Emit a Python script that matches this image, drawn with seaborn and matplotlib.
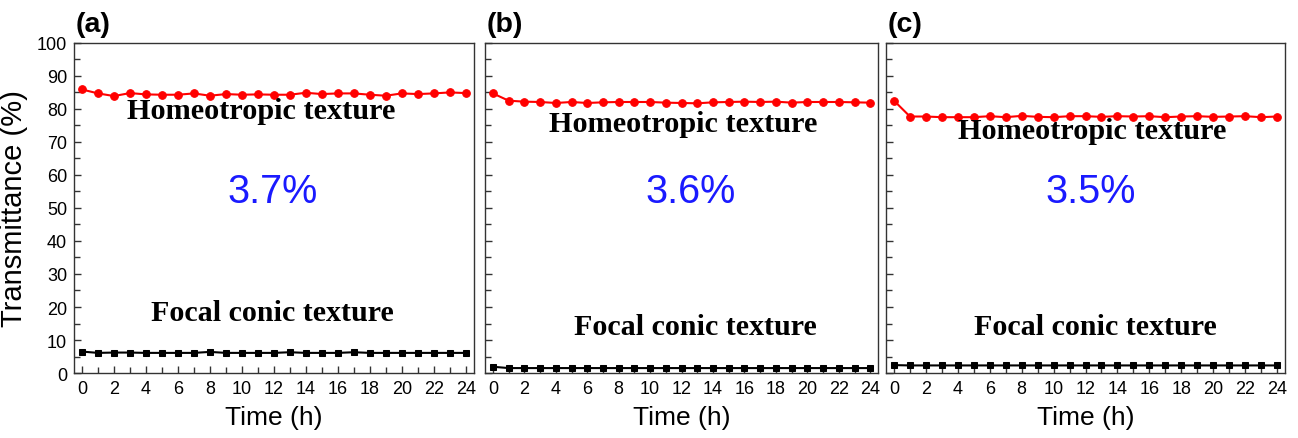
import numpy as np
import pandas as pd
import matplotlib
matplotlib.use("Agg")
import matplotlib.pyplot as plt
from matplotlib.ticker import MultipleLocator
import seaborn as sns

time_h = list(range(25))

homeo_a = [85.9, 84.7, 83.9, 84.8, 84.4, 84.3, 84.3, 84.7, 84.0, 84.5, 84.3, 84.4, 84.3, 84.3,
           84.9, 84.5, 84.7, 84.7, 84.3, 84.0, 84.7, 84.5, 84.7, 85.0, 84.8]
focal_a = [6.5, 6.1, 6.2, 6.2, 6.1, 6.1, 6.1, 6.1, 6.4, 6.1, 6.1, 6.1, 6.1, 6.3,
           6.1, 6.1, 6.1, 6.3, 6.1, 6.1, 6.1, 6.1, 6.1, 6.1, 6.1]

homeo_b = [84.7, 82.5, 82.2, 82.1, 81.8, 82.1, 81.8, 82.0, 82.1, 82.1, 82.1, 81.9, 81.8, 81.7,
           82.0, 82.1, 82.2, 82.1, 82.2, 81.9, 82.1, 82.1, 82.1, 82.0, 81.9]
focal_b = [1.9, 1.5, 1.5, 1.5, 1.5, 1.5, 1.5, 1.5, 1.5, 1.5, 1.5, 1.5, 1.5, 1.5,
           1.5, 1.5, 1.5, 1.5, 1.5, 1.5, 1.5, 1.5, 1.5, 1.5, 1.5]

homeo_c = [82.5, 77.7, 77.7, 77.5, 77.5, 77.5, 77.8, 77.5, 77.9, 77.6, 77.5, 77.8, 77.8, 77.6,
           77.8, 77.7, 77.8, 77.5, 77.7, 77.8, 77.6, 77.7, 77.8, 77.5, 77.7]
focal_c = [2.4, 2.3, 2.3, 2.3, 2.3, 2.3, 2.3, 2.3, 2.3, 2.3, 2.3, 2.3, 2.3, 2.3,
           2.3, 2.3, 2.3, 2.3, 2.3, 2.3, 2.3, 2.3, 2.3, 2.3, 2.3]

panel_labels = ["(a)", "(b)", "(c)"]
percent_labels = ["3.7%", "3.6%", "3.5%"]
homeo_series = [homeo_a, homeo_b, homeo_c]
focal_series = [focal_a, focal_b, focal_c]

sns.set_theme(style="ticks")
plt.rcParams['font.family'] = ['Liberation Sans', 'DejaVu Sans']
plt.rcParams['text.color'] = 'black'
plt.rcParams['axes.labelcolor'] = 'black'
plt.rcParams['xtick.color'] = 'black'
plt.rcParams['ytick.color'] = 'black'
plt.rcParams['xtick.labelcolor'] = 'black'
plt.rcParams['ytick.labelcolor'] = 'black'

fig = plt.figure(figsize=(12.98, 4.39), dpi=100)
positions = [
    [0.057, 0.148, 0.308, 0.752],
    [0.3737, 0.148, 0.3028, 0.752],
    [0.6826, 0.148, 0.3074, 0.752],
]
# text positions (data coords)
homeo_txt = [(11.2, 79.6), (12.1, 75.6), (12.4, 73.4)]
focal_txt = [(11.9, 18.3), (12.9, 14.0), (12.6, 14.0)]
pct_txt = [(11.9, 55.0), (12.6, 55.0), (12.3, 55.0)]

for i in range(3):
    ax = fig.add_axes(positions[i])
    df = pd.DataFrame({"t": time_h, "homeo": homeo_series[i], "focal": focal_series[i]})
    sns.lineplot(data=df, x="t", y="homeo", ax=ax, color="#ff0000", marker="o",
                 markersize=5.5, markeredgecolor="#ff0000", linewidth=1.5)
    sns.lineplot(data=df, x="t", y="focal", ax=ax, color="black", marker="s",
                 markersize=5, markeredgecolor="black", linewidth=1.5)
    ax.set_xlim(-0.5, 24.5)
    ax.set_ylim(0, 100)
    ax.xaxis.set_major_locator(MultipleLocator(2))
    ax.xaxis.set_minor_locator(MultipleLocator(1))
    ax.yaxis.set_major_locator(MultipleLocator(10))
    ax.yaxis.set_minor_locator(MultipleLocator(5))
    ax.tick_params(axis="both", which="both", direction="in", top=False, right=False,
                   color="#333333", width=1)
    ax.tick_params(axis="both", which="major", length=5, labelsize=13, pad=5)
    ax.tick_params(axis="both", which="minor", length=4)
    for s in ax.spines.values():
        s.set_visible(True)
        s.set_color("#333333")
        s.set_linewidth(1.0)
    ax.set_xlabel("Time (h)", fontsize=19, labelpad=6)
    if i == 0:
        ax.set_ylabel("Transmittance (%)", fontsize=21, labelpad=6)
    else:
        ax.set_ylabel("")
        ax.tick_params(axis="y", labelleft=False)
    ax.text(homeo_txt[i][0], homeo_txt[i][1], "Homeotropic texture", ha="center", va="center",
            fontsize=21.8, fontweight="bold", family=["Liberation Serif", "DejaVu Serif"])
    ax.text(focal_txt[i][0], focal_txt[i][1], "Focal conic texture", ha="center", va="center",
            fontsize=21.6, fontweight="bold", family=["Liberation Serif", "DejaVu Serif"])
    ax.text(pct_txt[i][0], pct_txt[i][1], percent_labels[i], ha="center", va="center",
            fontsize=28.5, color="#1a1aff")
    ax.text(0.005, 1.018, panel_labels[i], transform=ax.transAxes, ha="left", va="bottom",
            fontsize=20.5, fontweight="bold")

fig.savefig("out.png", dpi=100)
